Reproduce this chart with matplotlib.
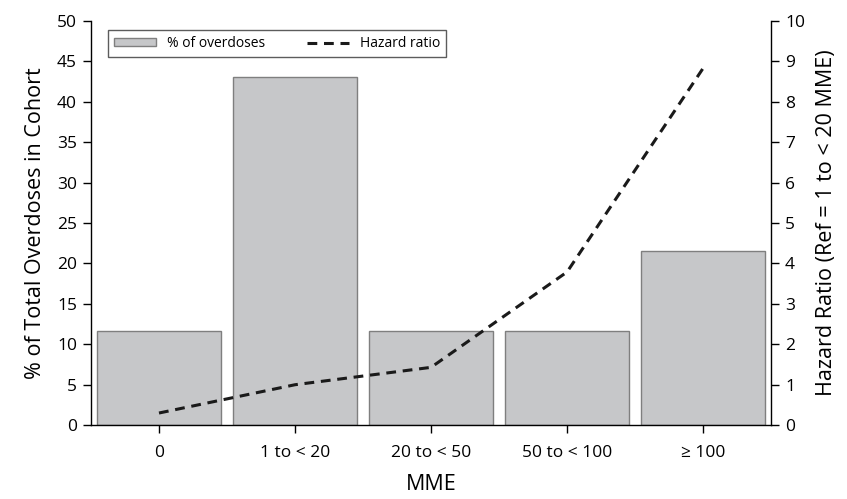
import matplotlib
matplotlib.use("Agg")
import matplotlib.pyplot as plt
from matplotlib.patches import Patch
from matplotlib.lines import Line2D

plt.rcParams['font.family'] = ['Open Sans', 'DejaVu Sans']

categories = ["0", "1 to < 20", "20 to < 50", "50 to < 100", "\u2265 100"]
pct_overdoses = [11.7, 43.1, 11.7, 11.7, 21.6]
hazard_ratio = [0.30, 1.0, 1.43, 3.79, 8.83]

fig = plt.figure(figsize=(8.47, 4.99), dpi=100)
ax = fig.add_axes([0.1074, 0.148, 0.803, 0.81])
x = list(range(len(categories)))
ax.bar(x, pct_overdoses, width=0.91, color='#c6c7c9', edgecolor='#7f7f7f', linewidth=1.0, zorder=2)
ax.set_xlim(-0.5, 4.5)
ax.set_ylim(0, 50)
ax.set_yticks(range(0, 51, 5))
ax.set_xticks(x)
ax.set_xticklabels(categories)
ax.spines['top'].set_visible(False)
ax.spines['right'].set_visible(False)
for s in ['left', 'bottom']:
    ax.spines[s].set_linewidth(1.0)
ax.tick_params(axis='both', direction='out', length=6, width=1.0, labelsize=12.5, pad=4)
ax.tick_params(axis='x', pad=8)
ax.set_ylabel("% of Total Overdoses in Cohort", fontsize=15.5, labelpad=8)
ax.set_xlabel("MME", fontsize=15.5, labelpad=10)

ax2 = ax.twinx()
ax2.plot(x, hazard_ratio, color='#1a1a1a', linestyle=(0, (3.2, 2.2)), linewidth=2.2, zorder=3)
ax2.set_ylim(0, 10)
ax2.set_yticks(range(0, 11))
ax2.spines['top'].set_visible(False)
ax2.spines['left'].set_visible(False)
ax2.spines['bottom'].set_visible(False)
ax2.spines['right'].set_linewidth(1.0)
ax2.tick_params(axis='y', direction='out', length=6, width=1.0, labelsize=12.5, pad=4)
ax2.set_ylabel("Hazard Ratio (Ref = 1 to < 20 MME)", fontsize=15.5, labelpad=8)

handles = [Patch(facecolor='#c6c7c9', edgecolor='#7f7f7f', label='% of overdoses'),
           Line2D([0], [0], color='#1a1a1a', linestyle=(0, (3.2, 2.2)), linewidth=2.2, label='Hazard ratio')]
leg = ax2.legend(handles=handles, loc='upper left', bbox_to_anchor=(0.015, 0.995), ncol=2,
                 fontsize=10, frameon=True, fancybox=False, edgecolor='#333333',
                 handlelength=3.0, handleheight=0.55, handletextpad=0.8,
                 columnspacing=3.0, borderpad=0.45)
leg.get_frame().set_linewidth(1.0)

fig.savefig("out.png", dpi=100)
